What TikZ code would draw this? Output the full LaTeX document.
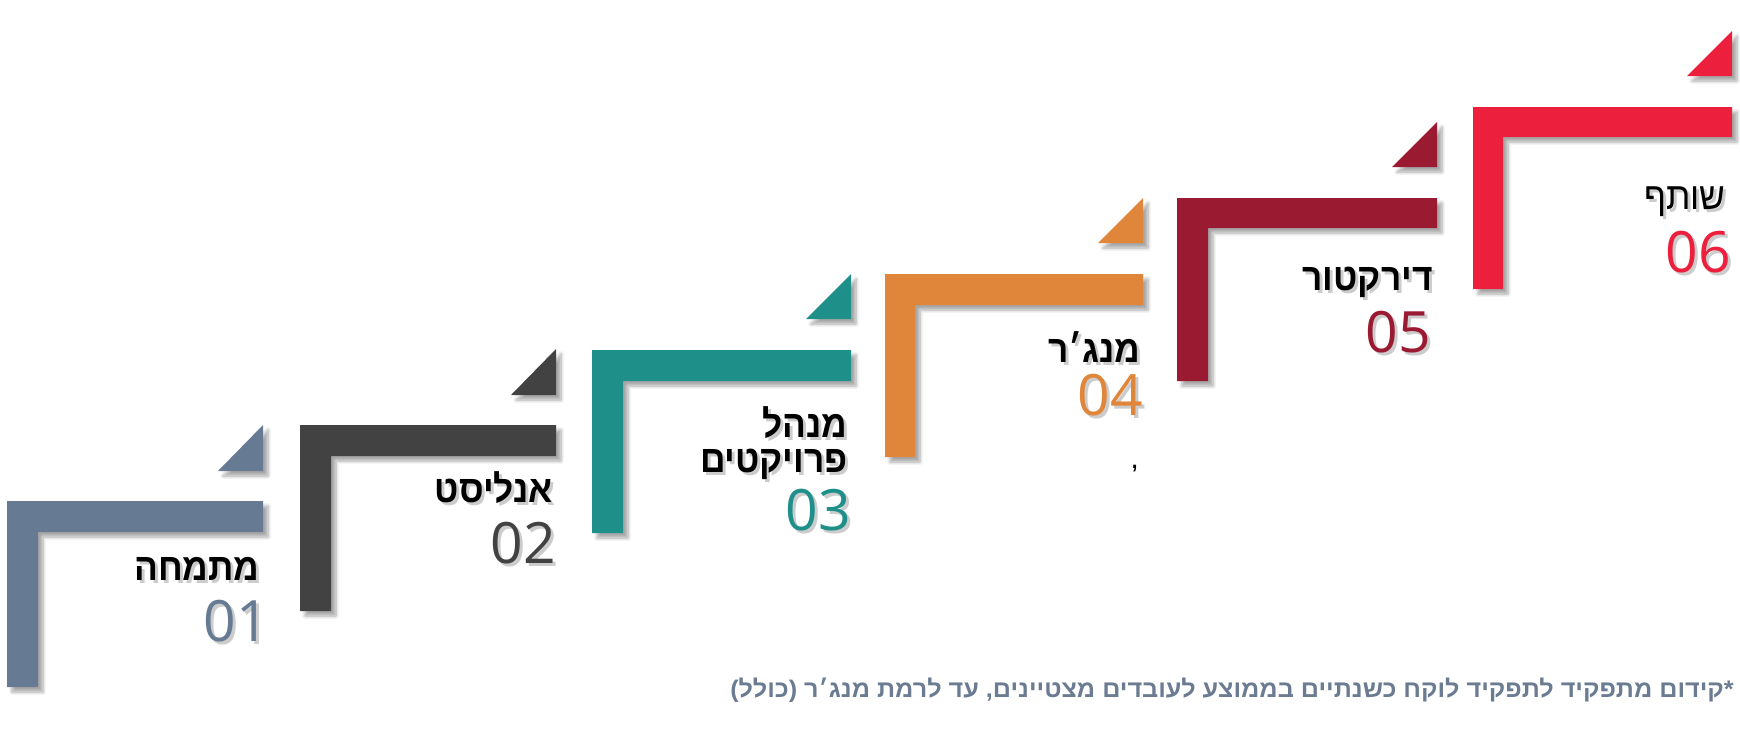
\documentclass[tikz,border=0pt]{standalone}
\usepackage{fontspec}
\usetikzlibrary{positioning}
\usetikzlibrary{shadows.blur}
\newfontfamily\hebfont[Script=Hebrew, FakeStretch=0.93]{Liberation Sans}
\newfontfamily\notefont[Script=Hebrew, FakeStretch=1.05]{Liberation Sans}
\newfontfamily\numfont{Open Sans}
\TeXXeTstate=1
\definecolor{stepslate}{HTML}{667B93}
\definecolor{stepgray}{HTML}{424242}
\definecolor{stepteal}{HTML}{1F8F8A}
\definecolor{steporange}{HTML}{E0863A}
\definecolor{stepmaroon}{HTML}{9A1A32}
\definecolor{stepred}{HTML}{EC1F3D}
\definecolor{noteslate}{HTML}{6A7B92}
\newcommand{\castshadow}[1]{\leavevmode\rlap{\hspace{1.5pt}\raisebox{-1.5pt}{\color{black!20}#1}}#1}

\begin{document}
\begin{tikzpicture}[
			x=0.5pt, y=-0.5pt,
			stair/.style={blur shadow={shadow xshift=2.5pt, shadow yshift=-2.5pt, shadow blur steps=6, shadow opacity=35}},
			title/.style={anchor=base east, inner sep=0pt, text=black, font=\hebfont\bfseries\fontsize{19}{20}\selectfont},
			number/.style={anchor=base east, inner sep=0pt, font=\numfont\fontsize{28.5}{30}\selectfont},
			note/.style={anchor=base east, inner sep=0pt, text=noteslate, font=\notefont\bfseries\fontsize{12}{13}\selectfont},
			]
			\useasboundingbox (0,0) rectangle (1740,730);
			
			% stairs
			\fill[stepslate, stair]  (7,501)    -- ++(256,0) -- ++(0,31) -- ++(-225,0) -- ++(0,155) -- ++(-31,0) -- cycle;
			\fill[stepgray, stair]   (300,425)  -- ++(256,0) -- ++(0,31) -- ++(-225,0) -- ++(0,155) -- ++(-31,0) -- cycle;
			\fill[stepteal, stair]   (592,350)  -- ++(259,0) -- ++(0,31) -- ++(-228,0) -- ++(0,152) -- ++(-31,0) -- cycle;
			\fill[steporange, stair] (885,274)  -- ++(258,0) -- ++(0,31) -- ++(-228,0) -- ++(0,152) -- ++(-30,0) -- cycle;
			\fill[stepmaroon, stair] (1177,198) -- ++(260,0) -- ++(0,30) -- ++(-229,0) -- ++(0,153) -- ++(-31,0) -- cycle;
			\fill[stepred, stair]    (1473,107) -- ++(259,0) -- ++(0,30) -- ++(-229,0) -- ++(0,152) -- ++(-30,0) -- cycle;
			
			% corner triangles
			\fill[stepslate, stair]  (218,471)  -- ++(45,-46) -- ++(0,46) -- cycle;
			\fill[stepgray, stair]   (511,395)  -- ++(45,-46) -- ++(0,46) -- cycle;
			\fill[stepteal, stair]   (806,319)  -- ++(45,-45) -- ++(0,45) -- cycle;
			\fill[steporange, stair] (1098,243) -- ++(45,-45) -- ++(0,45) -- cycle;
			\fill[stepmaroon, stair] (1392,167) -- ++(45,-45) -- ++(0,45) -- cycle;
			\fill[stepred, stair]    (1687,76)  -- ++(45,-45) -- ++(0,45) -- cycle;
			
			\node[title]                     (t_1)  at (260,580)  {\castshadow{\beginR מתמחה\endR}};
			\node[number, text=stepslate]    (n_1)  at (269,641)  {\castshadow{01}};
			\node[title]                     (t_2)  at (553,502)  {\castshadow{\beginR אנליסט\endR}};
			\node[number, text=stepgray]     (n_2)  at (556,563)  {\castshadow{02}};
			\node[title]                     (t_3)  at (848,437)  {\castshadow{\beginR מנהל\endR}};
			\node[title]                     (t_3b) at (848,472)  {\castshadow{\beginR פרויקטים\endR}};
			\node[number, text=stepteal]     (n_3)  at (851,530)  {\castshadow{03}};
			\node[title]                     (t_4)  at (1141,362) {\castshadow{\beginR מנג׳ר\endR}};
			\node[number, text=steporange]   (n_4)  at (1143,415) {\castshadow{04}};
			\node[title, font=\hebfont\bfseries\fontsize{11}{11}\selectfont] (mark) at (1138,468) {,};
			\node[title]                     (t_5)  at (1433,290) {\castshadow{\beginR דירקטור\endR}};
			\node[number, text=stepmaroon]   (n_5)  at (1431,352) {\castshadow{05}};
			\node[title, font=\hebfont\fontsize{19}{20}\selectfont] (t_6) at (1726,209) {\castshadow{\beginR שותף\endR}};
			\node[number, text=stepred]      (n_6)  at (1731,272) {\castshadow{06}};
			
			\node[note] (footnote) at (1734,697) {\beginR *קידום מתפקיד לתפקיד לוקח כשנתיים בממוצע לעובדים מצטיינים, עד לרמת מנג׳ר (כולל)\endR};
			
\end{tikzpicture}
\end{document}
